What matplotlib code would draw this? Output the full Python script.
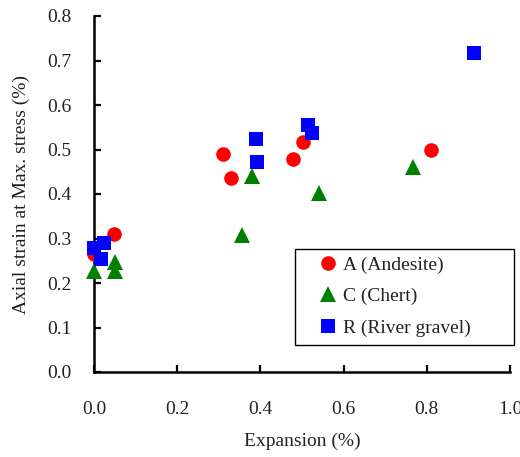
import matplotlib
matplotlib.use("Agg")
import matplotlib.pyplot as plt
from matplotlib.patches import Rectangle

plt.rcParams['font.family'] = ['Liberation Serif', 'DejaVu Serif']

# Data
a_x = [0.00, 0.048, 0.311, 0.329, 0.478, 0.503, 0.809]
a_y = [0.265, 0.311, 0.489, 0.435, 0.478, 0.516, 0.499]
c_x = [0.00, 0.050, 0.050, 0.355, 0.381, 0.542, 0.766]
c_y = [0.228, 0.247, 0.228, 0.307, 0.441, 0.403, 0.460]
r_x = [0.00, 0.025, 0.018, 0.389, 0.392, 0.514, 0.524, 0.913]
r_y = [0.278, 0.290, 0.255, 0.523, 0.472, 0.555, 0.538, 0.717]
labels = ["A (Andesite)", "C (Chert)", "R (River gravel)"]
xticks = [0.0, 0.2, 0.4, 0.6, 0.8, 1.0]
yticks = [0.0, 0.1, 0.2, 0.3, 0.4, 0.5, 0.6, 0.7, 0.8]

fig = plt.figure(figsize=(5.2, 4.57), dpi=100)
ax = fig.add_axes([94/520, 1-372/457, 416/520, 356/457])

ax.plot(a_x, a_y, 'o', color='#FF0000', ms=10.5, mew=0, label=labels[0], clip_on=False, zorder=3)
ax.plot(c_x, c_y, '^', color='#008000', ms=11, mew=0, label=labels[1], clip_on=False, zorder=3)
ax.plot(r_x, r_y, 's', color='#0000FF', ms=10.5, mew=0, label=labels[2], clip_on=False, zorder=3)

ax.set_xlim(0, 1.0)
ax.set_ylim(0, 0.8)
ax.set_xticks(xticks)
ax.set_yticks(yticks)
ax.set_xticklabels([f"{v:.1f}" for v in xticks])
ax.set_yticklabels([f"{v:.1f}" for v in yticks])
for s in ['top', 'right']:
    ax.spines[s].set_visible(False)
for s in ['left', 'bottom']:
    ax.spines[s].set_linewidth(1.8)
ax.tick_params(axis='both', direction='in', length=5, width=1.6, labelsize=14, colors='black', labelcolor='#222222')
ax.tick_params(axis='x', pad=21)
ax.tick_params(axis='y', pad=16)

ax.set_xlabel("Expansion (%)", fontsize=14, labelpad=10.5, color='#222222')
ax.set_ylabel("Axial strain at Max. stress (%)", fontsize=14, labelpad=12.5, color='#222222')

leg = fig.legend(loc='upper left', bbox_to_anchor=(318/520, 1-256/457), frameon=False,
                 borderpad=0, handlelength=1.0, handletextpad=0.27, labelspacing=0.72,
                 fontsize=14, borderaxespad=0)
for t in leg.get_texts():
    t.set_color('#222222')

fig.patches.append(Rectangle((295/520, 1-345/457), 219/520, 96/457, transform=fig.transFigure,
                             fill=False, edgecolor='black', linewidth=1.0))

fig.savefig("out.png", dpi=100)
